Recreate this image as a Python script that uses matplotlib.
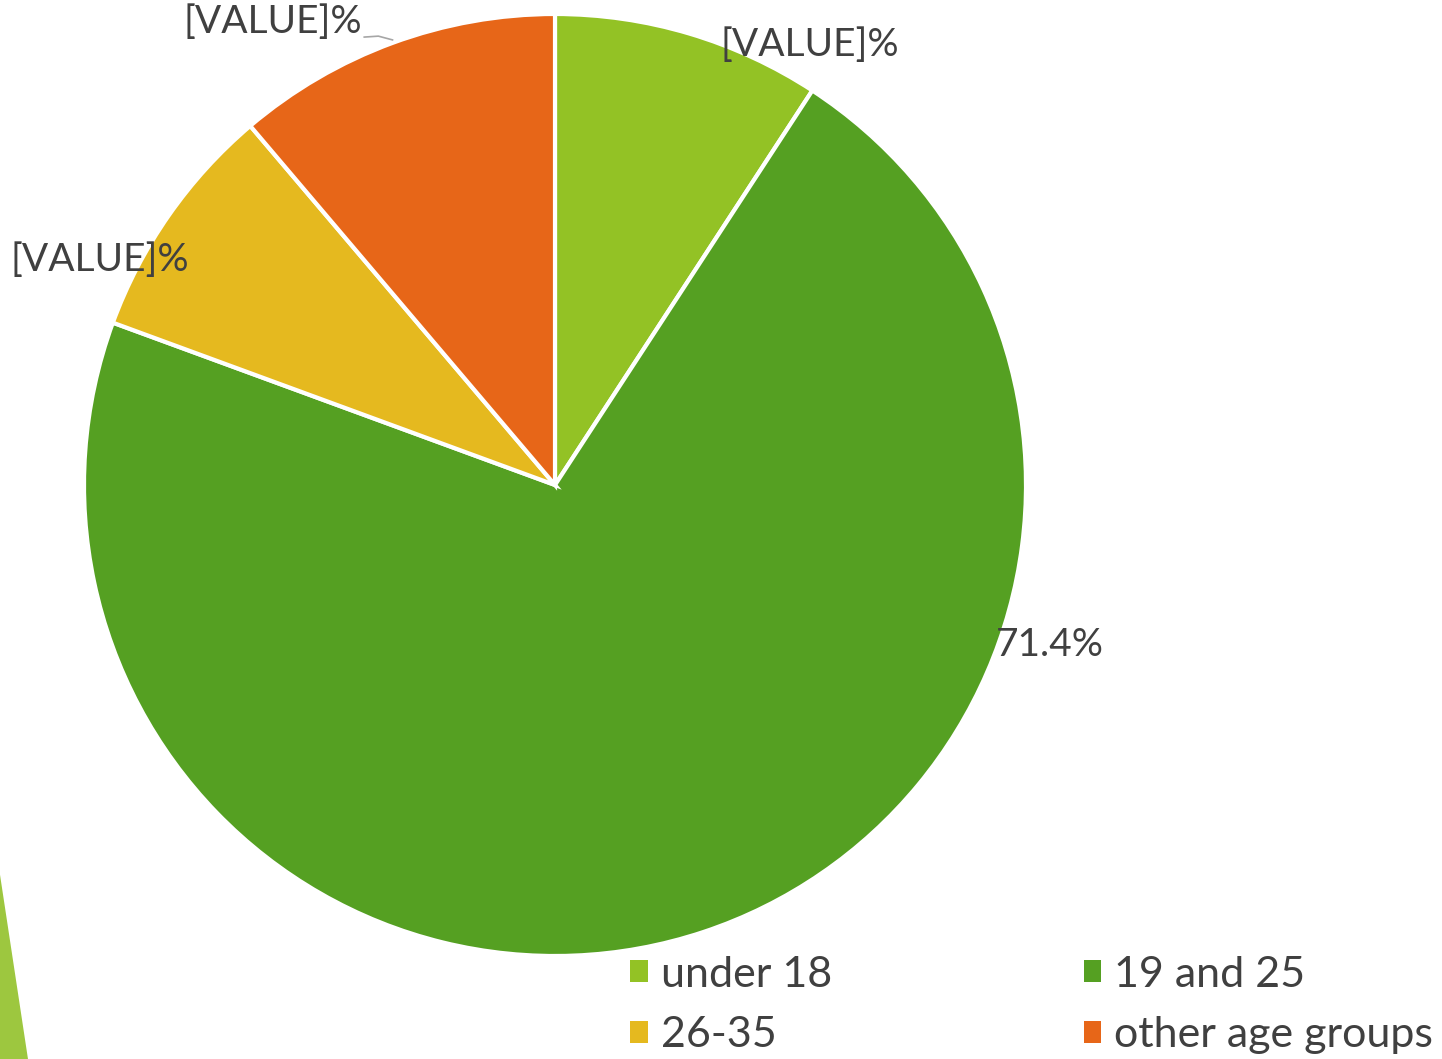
import matplotlib.pyplot as plt
from matplotlib.patches import Polygon

# datos
categories = ['under 18', '19 and 25', '26-35', 'other age groups']
values = [9.2, 71.4, 8.2, 11.2]
labels = ['[VALUE]%', '71.4%', '[VALUE]%', '[VALUE]%']
colors = ['#93C225', '#55A022', '#E5B91F', '#E76618']
label_pos = [(0.541, 0.934), (1.051, -0.340), (-0.966, 0.478), (-0.599, 0.983)]

plt.rcParams['font.family'] = ['Lato', 'DejaVu Sans']
text_color = '#404040'

fig = plt.figure(figsize=(14.42, 10.59), dpi=100)

# decorative strip from the slide
fig.patches.append(Polygon([(0, 0.174), (0.0194, 0), (0, 0)], closed=True,
                           transform=fig.transFigure, facecolor='#9DC73F',
                           edgecolor='none'))

cx, cy, r = 555, 485, 471
ax = fig.add_axes([(cx - r) / 1442, (1059 - cy - r) / 1059, 2 * r / 1442, 2 * r / 1059])
wedges, _ = ax.pie(values, colors=colors, startangle=90, counterclock=False,
                   wedgeprops=dict(edgecolor='white', linewidth=3))
ax.set_xlim(-1, 1)
ax.set_ylim(-1, 1)
ax.set_aspect('equal')
ax.axis('off')

for lab, (x, y) in zip(labels, label_pos):
    ax.text(x, y, lab, ha='center', va='center', fontsize=28, color=text_color)

# leader line for the last label
ax.plot([-0.405, -0.375, -0.345], [0.951, 0.953, 0.945], color='#A6A6A6', lw=1.2,
        clip_on=False)

# legend filled row by row
order = [0, 2, 1, 3]
leg = fig.legend([wedges[i] for i in order], [categories[i] for i in order],
                 loc='upper left', bbox_to_anchor=(0.4223, 0.118),
                 ncol=2, frameon=False, fontsize=31, labelcolor=text_color,
                 handlelength=0.4, handleheight=0.4, handletextpad=0.3,
                 columnspacing=5.85, labelspacing=0.53, borderpad=0)
for h in leg.legend_handles:
    h.set_edgecolor('none')

fig.savefig('out.png', dpi=100)
